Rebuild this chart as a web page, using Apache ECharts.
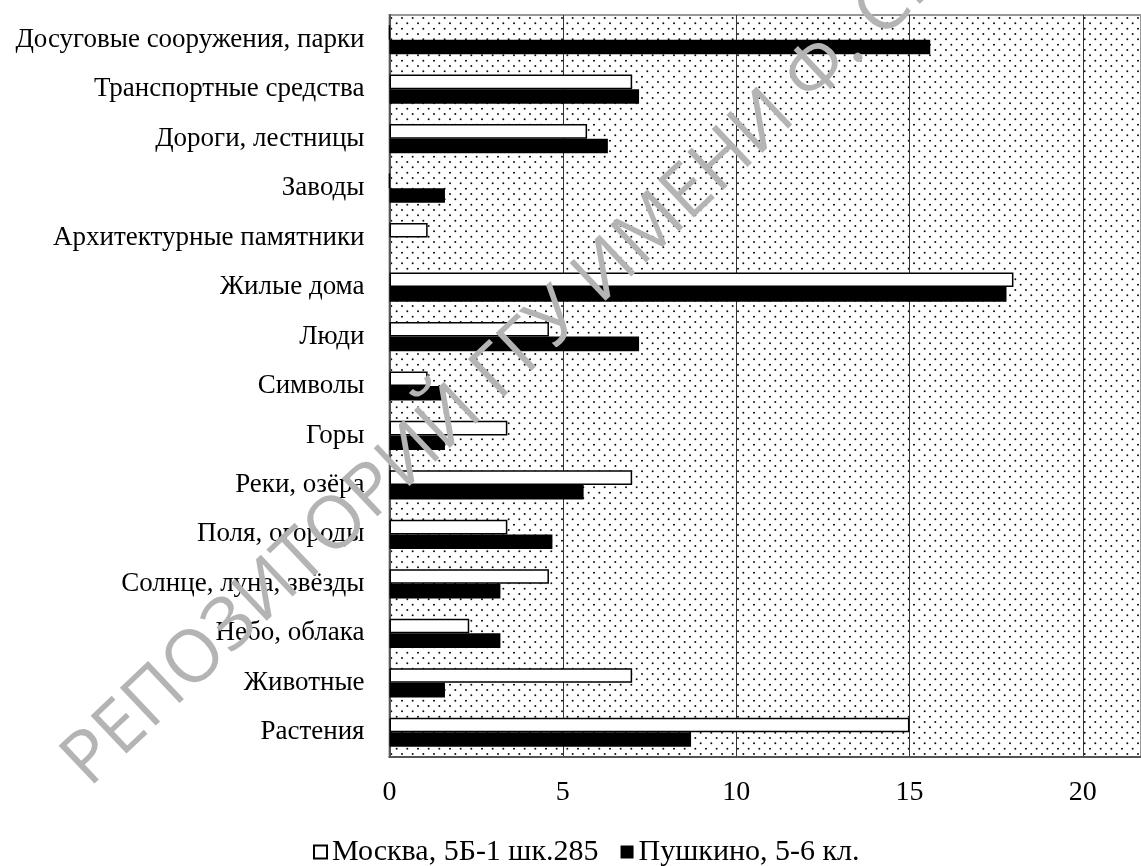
<!DOCTYPE html>
<html>
<head>
<meta charset="utf-8">
<script src="https://cdn.jsdelivr.net/npm/echarts@6/dist/echarts.min.js"></script>
<style>
html,body{margin:0;padding:0;background:#fff;}
#chart{width:1141px;height:866px;}
</style>
</head>
<body>
<div id="chart"></div>
<script>
// Categories listed bottom to top (ECharts category y-axis starts at the bottom)
const categories = [
  'Растения', 'Животные', 'Небо, облака', 'Солнце, луна, звёзды', 'Поля, огороды',
  'Реки, озёра', 'Горы', 'Символы', 'Люди', 'Жилые дома',
  'Архитектурные памятники', 'Заводы', 'Дороги, лестницы', 'Транспортные средства',
  'Досуговые сооружения, парки'
];
const moscowName = 'Москва, 5Б-1 шк.285';
const pushkinoName = 'Пушкино, 5-6 кл.';
const moscow =   [15.0, 7.0, 2.3, 4.6, 3.4, 7.0, 3.4, 1.1, 4.6, 18.0, 1.1, 0, 5.7, 7.0, 0];
const pushkino = [8.7, 1.6, 3.2, 3.2, 4.7, 5.6, 1.6, 1.6, 7.2, 17.8, 0, 1.6, 6.3, 7.2, 15.6];
const xTicks = [0, 5, 10, 15, 20];
const watermark = 'РЕПОЗИТОРИЙ ГГУ ИМЕНИ Ф. СКОРИНЫ';

// dotted background pattern
const tile = document.createElement('canvas');
tile.width = 32; tile.height = 32;
const c = tile.getContext('2d');
c.fillStyle = '#fff'; c.fillRect(0, 0, 32, 32);
c.fillStyle = '#111';
for (let r = 0; r < 6; r++) {
  const y = r * 32 / 6 + 2;
  const off = (r % 2) * 16 / 3;
  for (let k = 0; k < 3; k++) {
    const x = off + k * 32 / 3 + 2;
    c.beginPath(); c.arc(x, y, 1.0, 0, Math.PI * 2); c.fill();
  }
}

const chart = echarts.init(document.getElementById('chart'));
const serif = '"Liberation Serif", "Times New Roman", serif';
chart.setOption({
  animation: false,
  grid: {
    left: 389.5, right: -2, top: 15, bottom: 109,
    show: true,
    backgroundColor: { image: tile, repeat: 'repeat' },
    borderColor: '#999', borderWidth: 2
  },
  legend: {
    data: [moscowName, pushkinoName],
    left: 308, top: 832,
    icon: 'rect',
    itemWidth: 13, itemHeight: 13,
    itemGap: 22,
    textStyle: { fontFamily: serif, fontSize: 30, color: '#000' }
  },
  xAxis: {
    type: 'value', min: 0, max: 21.68, interval: 5,
    axisLine: { show: true, lineStyle: { color: '#555', width: 2 } },
    axisTick: { show: false },
    axisLabel: {
      margin: 22, showMaxLabel: false, color: '#000',
      fontFamily: serif, fontSize: 28,
      formatter: function (v) { return xTicks.indexOf(v) >= 0 ? String(v) : ''; }
    },
    splitLine: { show: true, lineStyle: { color: '#333', width: 1 } }
  },
  yAxis: {
    type: 'category', data: categories,
    axisLine: { show: true, lineStyle: { color: '#555', width: 2 } },
    axisTick: { show: false },
    axisLabel: { margin: 25, color: '#000', fontFamily: serif, fontSize: 27 }
  },
  series: [
    {
      name: moscowName, type: 'bar', data: moscow,
      barCategoryGap: '41%', barGap: '0%',
      itemStyle: { color: '#fff', borderColor: '#000', borderWidth: 1.5 }
    },
    {
      name: pushkinoName, type: 'bar', data: pushkino,
      barCategoryGap: '41%', barGap: '0%',
      itemStyle: { color: '#000' }
    }
  ],
  graphic: [{
    type: 'text', x: 100, y: 800, rotation: 0.757, z: 100, silent: true,
    style: {
      text: watermark, fill: '#b4b4b4',
      font: '400 73px "Open Sans", "Liberation Sans", sans-serif',
      textAlign: 'left', textVerticalAlign: 'bottom',
      blend: 'multiply'
    }
  }]
});
</script>
</body>
</html>
